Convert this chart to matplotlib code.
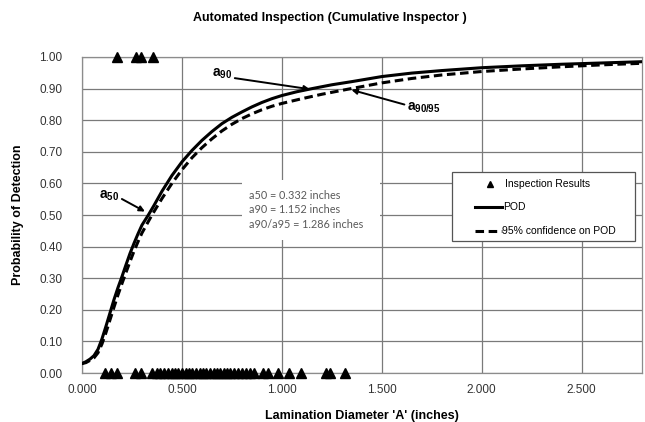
#!/usr/bin/env python3
import matplotlib
matplotlib.use("Agg")
import matplotlib.pyplot as plt
from matplotlib.lines import Line2D
from matplotlib.patches import Rectangle

# POD curve
POD_X = [0.00, 0.02, 0.04, 0.06, 0.08, 0.10, 0.12, 0.14, 0.16, 0.18, 0.20,
         0.22, 0.24, 0.26, 0.28, 0.30, 0.332, 0.36, 0.40, 0.45, 0.50, 0.55,
         0.60, 0.65, 0.70, 0.75, 0.80, 0.85, 0.90, 0.95, 1.00, 1.075, 1.152,
         1.25, 1.35, 1.50, 1.65, 1.80, 2.00, 2.20, 2.40, 2.60, 2.80]
POD_Y = [0.030, 0.036, 0.044, 0.055, 0.075, 0.108, 0.148, 0.190, 0.232, 0.270,
         0.305, 0.342, 0.378, 0.410, 0.440, 0.468, 0.500, 0.530, 0.575, 0.625,
         0.668, 0.704, 0.736, 0.764, 0.789, 0.809, 0.826, 0.842, 0.856, 0.868,
         0.878, 0.890, 0.900, 0.912, 0.922, 0.938, 0.949, 0.957, 0.966, 0.972,
         0.977, 0.981, 0.985]

# 95% confidence bound
CONF_X = [0.00, 0.02, 0.04, 0.06, 0.08, 0.10, 0.12, 0.14, 0.16, 0.18, 0.20,
          0.22, 0.24, 0.26, 0.28, 0.30, 0.35, 0.40, 0.45, 0.50, 0.55, 0.60,
          0.65, 0.70, 0.75, 0.80, 0.85, 0.90, 0.95, 1.00, 1.10, 1.20, 1.33,
          1.50, 1.65, 1.80, 2.00, 2.20, 2.40, 2.60, 2.80]
CONF_Y = [0.030, 0.033, 0.040, 0.048, 0.064, 0.092, 0.128, 0.168, 0.208, 0.247,
          0.283, 0.318, 0.352, 0.385, 0.415, 0.443, 0.500, 0.552, 0.600, 0.643,
          0.681, 0.713, 0.741, 0.766, 0.787, 0.805, 0.820, 0.833, 0.844, 0.853,
          0.868, 0.882, 0.898, 0.918, 0.932, 0.943, 0.954, 0.962, 0.969, 0.975,
          0.980]

# inspection results (hit = 1, miss = 0)
HIT_X = [0.173, 0.27, 0.295, 0.355]
HIT_Y = [1, 1, 1, 1]
MISS_X = [0.115, 0.143, 0.173, 0.265, 0.293, 0.348, 0.375, 0.39, 0.41, 0.43,
          0.45, 0.465, 0.48, 0.50, 0.52, 0.535, 0.55, 0.57, 0.59, 0.605, 0.62,
          0.64, 0.66, 0.675, 0.69, 0.71, 0.725, 0.74, 0.76, 0.78, 0.80, 0.82,
          0.84, 0.86, 0.907, 0.932, 0.982, 1.035, 1.095, 1.22, 1.24, 1.315]
MISS_Y = [0] * len(MISS_X)

STATS = ["a50 = 0.332 inches", "a90 = 1.152 inches", "a90/a95 = 1.286 inches"]
X_TICKS = [0.0, 0.5, 1.0, 1.5, 2.0, 2.5]
Y_TICKS = [0.0, 0.1, 0.2, 0.3, 0.4, 0.5, 0.6, 0.7, 0.8, 0.9, 1.0]

SANS = ["Liberation Sans", "DejaVu Sans"]
GRID = "#7a7a7a"
DASH = (0, (2.8, 1.5))


def main():
    plt.rcParams["font.family"] = SANS
    plt.rcParams["mathtext.fontset"] = "custom"
    plt.rcParams["mathtext.rm"] = "Liberation Sans"
    plt.rcParams["mathtext.bf"] = "Liberation Sans:bold"

    fig = plt.figure(figsize=(6.45, 4.22), dpi=100)
    ax = fig.add_axes([0.1271, 0.116, 0.8677, 0.749])

    ax.plot(POD_X, POD_Y, color="black", lw=2.2, zorder=4)
    ax.plot(CONF_X, CONF_Y, color="black", lw=2.2, ls=DASH, zorder=4)
    ax.plot(HIT_X, HIT_Y, "^", color="black", ms=6.5, clip_on=False, zorder=5)
    ax.plot(MISS_X, MISS_Y, "^", color="black", ms=6.5, clip_on=False, zorder=5)

    ax.set_xlim(0, 2.8)
    ax.set_ylim(0, 1.0)
    ax.set_xticks(X_TICKS)
    ax.set_yticks(Y_TICKS)
    ax.set_xticklabels([f"{v:.3f}" for v in X_TICKS])
    ax.set_yticklabels([f"{v:.2f}" for v in Y_TICKS])
    ax.tick_params(length=0, labelsize=8.5, colors="#333333")
    ax.tick_params(axis="x", pad=8)
    ax.tick_params(axis="y", pad=14)
    ax.grid(True, color=GRID, lw=0.9)
    ax.set_axisbelow(True)
    for s in ax.spines.values():
        s.set_color("#8c8c8c")
        s.set_linewidth(0.9)

    ax.set_xlabel("Lamination Diameter 'A' (inches)", fontweight="bold",
                  fontsize=9, labelpad=10)
    ax.set_ylabel("Probability of Detection", fontweight="bold",
                  fontsize=9, labelpad=11)
    fig.text(0.512, 0.958, "Automated Inspection (Cumulative Inspector )",
             fontweight="bold", fontsize=9, ha="center", va="center")

    # stats box
    ax.add_patch(Rectangle((0.80, 0.42), 0.69, 0.19, facecolor="white",
                           edgecolor="none", zorder=2))
    ax.text(0.837, 0.517, "\n".join(STATS), family=["Lato", "DejaVu Sans"],
            fontsize=7.8, color="#595959", va="center", ha="left",
            linespacing=1.4, zorder=3)

    arrow = dict(arrowstyle="-|>", color="black", lw=1.4, mutation_scale=8,
                 shrinkA=0, shrinkB=0)
    ax.annotate(r"$\mathbf{a}_{\mathbf{50}}$", xy=(0.315, 0.511),
                xytext=(0.135, 0.56), fontsize=10, ha="center", va="center",
                arrowprops=dict(arrow, relpos=(1.0, 0.4)), zorder=6)
    ax.annotate(r"$\mathbf{a}_{\mathbf{90}}$", xy=(1.14, 0.898),
                xytext=(0.70, 0.948), fontsize=10, ha="center", va="center",
                arrowprops=dict(arrow, relpos=(1.0, 0.2)), zorder=6)
    ax.annotate(r"$\mathbf{a}_{\mathbf{90/95}}$", xy=(1.348, 0.896),
                xytext=(1.71, 0.838), fontsize=10, ha="center", va="center",
                arrowprops=dict(arrow, relpos=(0.0, 0.7)), zorder=6)

    # legend drawn by hand to match the boxed Excel layout
    tr = ax.transAxes
    ax.add_patch(Rectangle((0.662, 0.418), 0.326, 0.217, transform=tr,
                           facecolor="white", edgecolor="#555555", lw=0.9,
                           zorder=6))
    ax.add_line(Line2D([0.729], [0.598], marker="^", color="black", ms=5,
                       transform=tr, zorder=7))
    ax.add_line(Line2D([0.702, 0.750], [0.526, 0.526], color="black", lw=2.2,
                       transform=tr, zorder=7))
    ax.add_line(Line2D([0.702, 0.750], [0.449, 0.449], color="black", lw=2.2,
                       ls=DASH, transform=tr, zorder=7))
    ax.text(0.756, 0.598, "Inspection Results", transform=tr, fontsize=7.5,
            va="center", zorder=7)
    ax.text(0.752, 0.526, "POD", transform=tr, fontsize=7.5, va="center",
            zorder=7)
    ax.text(0.750, 0.449, "95% confidence on POD", transform=tr, fontsize=7.5,
            va="center", zorder=7)

    fig.savefig("out.png", dpi=100)
    plt.close(fig)


if __name__ == "__main__":
    main()
